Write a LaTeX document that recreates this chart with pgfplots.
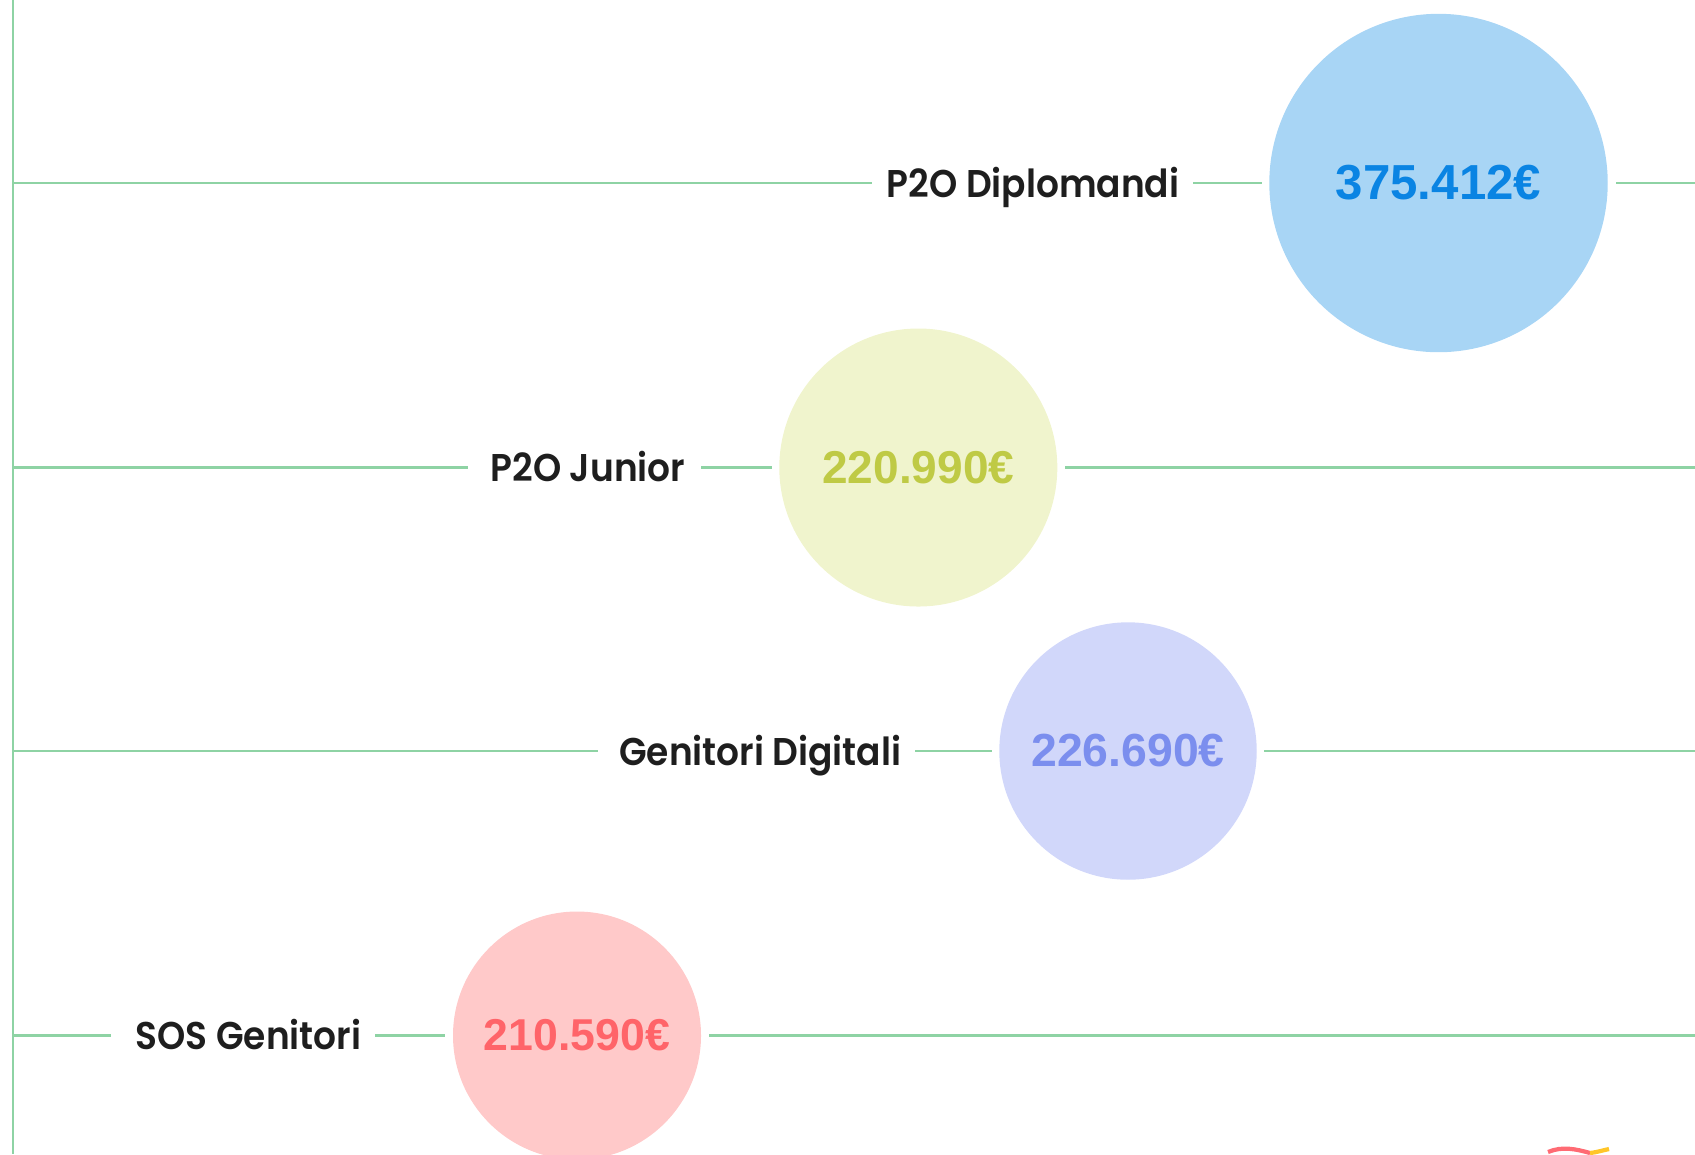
\documentclass[border=0pt]{standalone}
\usepackage{pgfplots}
\pgfplotsset{compat=1.18}
\usepackage{fontspec}
\setmainfont{Liberation Sans}
\newfontfamily\labfont{Poppins}[UprightFont=* SemiBold, FakeStretch=0.93]
\newfontfamily\numfontA{Liberation Sans}
\newcommand\numfont{\numfontA\bfseries}
\definecolor{linec}{HTML}{8ED3A4}
\definecolor{labc}{HTML}{1E1E1E}
\definecolor{fA}{HTML}{A8D5F5}\definecolor{tA}{HTML}{0A84E3}
\definecolor{fB}{HTML}{F0F4CD}\definecolor{tB}{HTML}{BFCA45}
\definecolor{fC}{HTML}{D1D7FA}\definecolor{tC}{HTML}{7B8EEE}
\definecolor{fD}{HTML}{FFC9C9}\definecolor{tD}{HTML}{FF6469}
\definecolor{logoR}{HTML}{FF6B74}\definecolor{logoY}{HTML}{FFC629}
\begin{document}
\begin{tikzpicture}
\begin{axis}[
  scale only axis, width=16.95cm, height=11.54cm,
  xmin=0, xmax=1695, ymin=0, ymax=1154, y dir=reverse,
  hide axis, clip=true,
]
% vertical line
\addplot[linec, line width=0.6pt] coordinates {(13,0) (13,1154)};
% row 1 : P2O Diplomandi
\addplot[linec, line width=0.6pt] coordinates {(13,183) (872,183)};
\addplot[linec, line width=0.6pt] coordinates {(1193,183) (1262,183)};
\addplot[linec, line width=0.6pt] coordinates {(1616,183) (1695,183)};
% row 2 : P2O Junior
\addplot[linec, line width=0.6pt] coordinates {(13,467.5) (468,467.5)};
\addplot[linec, line width=0.6pt] coordinates {(701,467.5) (772,467.5)};
\addplot[linec, line width=0.6pt] coordinates {(1065,467.5) (1695,467.5)};
% row 3 : Genitori Digitali
\addplot[linec, line width=0.6pt] coordinates {(13,751) (598,751)};
\addplot[linec, line width=0.6pt] coordinates {(915,751) (992,751)};
\addplot[linec, line width=0.6pt] coordinates {(1264,751) (1695,751)};
% row 4 : SOS Genitori
\addplot[linec, line width=0.6pt] coordinates {(13,1035.5) (111,1035.5)};
\addplot[linec, line width=0.6pt] coordinates {(375,1035.5) (445,1035.5)};
\addplot[linec, line width=0.6pt] coordinates {(709,1035.5) (1695,1035.5)};
% circles
\addplot[only marks, mark=*, mark size=1.685cm, color=fA,
  nodes near coords={\numfont\fontsize{14}{16}\selectfont 375.412€},
  every node near coord/.append style={anchor=center, text=tA, inner sep=0pt}]
  coordinates {(1438.5,183)};
\addplot[only marks, mark=*, mark size=1.383cm, color=fB,
  nodes near coords={\numfont\fontsize{13.1}{15}\selectfont 220.990€},
  every node near coord/.append style={anchor=center, text=tB, inner sep=0pt}]
  coordinates {(918.3,467.5)};
\addplot[only marks, mark=*, mark size=1.28cm, color=fC,
  nodes near coords={\numfont\fontsize{13.2}{15}\selectfont 226.690€},
  every node near coord/.append style={anchor=center, text=tC, inner sep=0pt}]
  coordinates {(1128,751)};
\addplot[only marks, mark=*, mark size=1.233cm, color=fD,
  nodes near coords={\numfont\fontsize{12.7}{15}\selectfont 210.590€},
  every node near coord/.append style={anchor=center, text=tD, inner sep=0pt}]
  coordinates {(577,1035.5)};
% labels
\node[anchor=base east, inner sep=0pt, text=labc, font=\labfont\fontsize{11}{13}\selectfont] at (axis cs:1180,197.5) {P2O Diplomandi};
\node[anchor=base east, inner sep=0pt, text=labc, font=\labfont\fontsize{11}{13}\selectfont] at (axis cs:686,481.5) {P2O Junior};
\node[anchor=base east, inner sep=0pt, text=labc, font=\labfont\fontsize{11}{13}\selectfont] at (axis cs:902,765) {Genitori Digitali};
\node[anchor=base east, inner sep=0pt, text=labc, font=\labfont\fontsize{11}{13}\selectfont] at (axis cs:362,1049.5) {SOS Genitori};
% logo fragment
\draw[logoR, line width=1.2pt] (axis cs:1548,1152) .. controls (axis cs:1562,1146) and (axis cs:1576,1149) .. (axis cs:1590,1153);
\draw[logoY, line width=1.2pt] (axis cs:1590,1153) .. controls (axis cs:1598,1152) and (axis cs:1604,1150) .. (axis cs:1609,1149);
\end{axis}
\pgfresetboundingbox
\useasboundingbox (current axis.south west) rectangle (current axis.north east);
\end{tikzpicture}
\end{document}
